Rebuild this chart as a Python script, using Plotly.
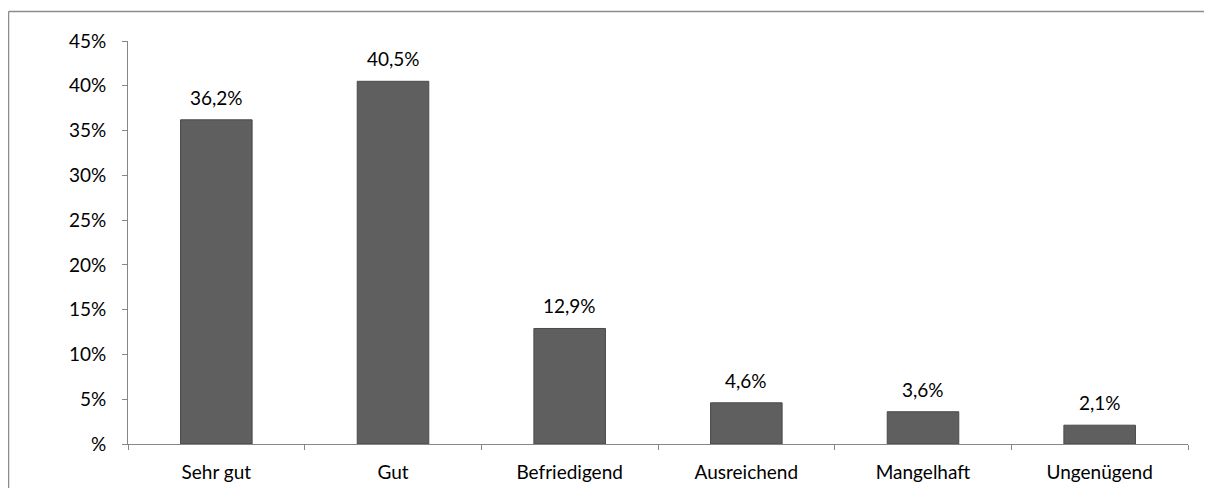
import plotly.graph_objects as go

categories = ["Sehr gut", "Gut", "Befriedigend", "Ausreichend", "Mangelhaft", "Ungenügend"]
values = [36.2, 40.5, 12.9, 4.6, 3.6, 2.1]
labels = ["36,2%", "40,5%", "12,9%", "4,6%", "3,6%", "2,1%"]
y_tickvals = [0, 5, 10, 15, 20, 25, 30, 35, 40, 45]
y_ticktext = ["%", "5%", "10%", "15%", "20%", "25%", "30%", "35%", "40%", "45%"]

# page body has an 8px margin; compensate so the plot lands where the reference has it
W, H = 1212, 488
L, R, T, B = 120, 32, 33, 52
FS = 19

fig = go.Figure(go.Bar(
    x=categories, y=values,
    marker=dict(color="#5f5f5f", line=dict(color="#4a4a4a", width=1)),
))

for c, v, t in zip(categories, values, labels):
    fig.add_annotation(x=c, y=v, text=t, showarrow=False, yanchor="bottom",
                       yshift=9, font=dict(size=FS, color="#000000"))

pw = W - L - R
ph = H - T - B
fig.update_layout(
    width=W, height=H,
    margin=dict(l=L, r=R, t=T, b=B),
    paper_bgcolor="white", plot_bgcolor="white",
    font=dict(family="Lato, sans-serif", size=FS, color="#000000"),
    bargap=0.595,
    showlegend=False,
    xaxis=dict(showline=True, linecolor="#868686", linewidth=1,
               ticks="outside", tickson="boundaries", ticklen=5, tickcolor="#868686",
               ticklabelstandoff=11,
               showgrid=False, zeroline=False, fixedrange=True),
    yaxis=dict(range=[0, 45], tickvals=y_tickvals, ticktext=y_ticktext,
               showline=True, linecolor="#868686", linewidth=1,
               ticks="outside", ticklen=5, tickcolor="#868686",
               ticklabelstandoff=12,
               showgrid=False, zeroline=False, fixedrange=True),
    shapes=[
        dict(type="line", xref="paper", yref="paper",
             x0=(0.5 - L) / pw, x1=(W - L) / pw,
             y0=(H - B - 3.5) / ph, y1=(H - B - 3.5) / ph,
             line=dict(color="#8c8c8c", width=1.5)),
        dict(type="line", xref="paper", yref="paper",
             x0=(0.5 - L) / pw, x1=(0.5 - L) / pw,
             y0=(H - B - 3.5) / ph, y1=-(B) / ph,
             line=dict(color="#8c8c8c", width=1.5)),
    ],
)

fig.write_html("out.html")
